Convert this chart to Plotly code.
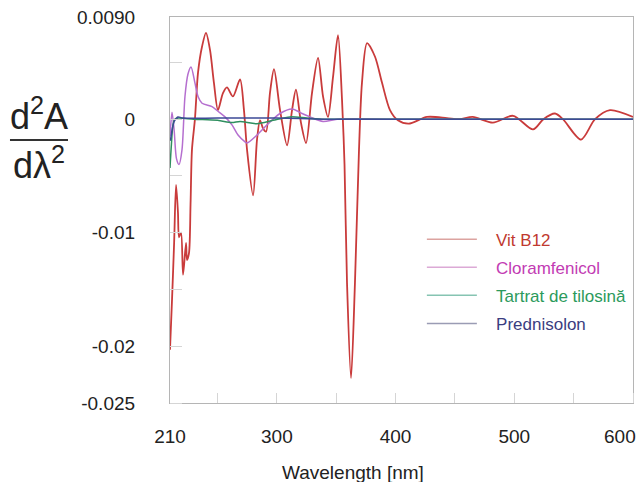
import plotly.graph_objects as go

# ---------------- data ----------------
wl_b12 = [210, 211.7, 213.5, 215.1, 216.7, 217.6, 219.3, 221.0, 223.5, 224.3, 226.0, 227.3, 228.5,
          231.0, 233.6, 237.0, 240.3, 243.7, 247.0, 250.4, 254.6, 258.0, 263.0, 269.0, 272.3,
          274.9, 280.0, 283.3, 285.8, 288.3, 290.9, 294.2, 297.6, 302.7, 308.6, 312.8, 316.1,
          320.3, 324.6, 329.6, 334.7, 338.9, 343.1, 347.3, 351.5, 354.9, 357.0, 359.1, 362.5,
          365.8, 369.2, 371.7, 376.0, 382.7, 388.6, 395.3, 402.0, 411.0, 426.5, 443.3, 454.0,
          465.0, 482.0, 499.0, 515.8, 524.5, 534.3, 541.0, 556.2, 568.0, 580.6, 600.0]
d2_b12 = [-0.0203, -0.0159, -0.0108, -0.0058, -0.0082, -0.0104, -0.0100, -0.0137, -0.0109, -0.0124,
          -0.0118, -0.0075, -0.0027, 0.0000, 0.0041, 0.0064, 0.0076, 0.0061, 0.0032, 0.0008,
          0.0023, 0.0028, 0.0020, 0.0035, 0.0008, -0.0027, -0.0067, -0.0018, -0.0001, -0.0008,
          -0.0011, 0.0023, 0.0044, 0.0008, -0.0023, 0.0008, 0.0026, -0.0003, -0.0021, 0.0023,
          0.0054, 0.0020, 0.0002, 0.0037, 0.0074, 0.0017, -0.0040, -0.0144, -0.0228, -0.0144,
          -0.0027, 0.0032, 0.0067, 0.0055, 0.0032, 0.0008, -0.0001, -0.0004, 0.0002, 0.0001,
          0.0000, 0.0002, -0.0003, 0.0003, -0.0009, 0.0000, 0.0005, 0.0000, -0.0018, 0.0000,
          0.0008, 0.0002]

wl_clor = [210, 211.7, 213.5, 215.5, 217.6, 220.1, 222.6, 225.2, 227.7, 231.0, 233.6, 237.0,
           245.4, 250.4, 256.3, 262.2, 267.3, 273.2, 274.9, 283.3, 291.7, 302.7, 312.8, 321.2,
           328.0, 338.9, 350.7, 400, 500, 600]
d2_clor = [-0.0015, 0.0006, -0.0010, -0.0035, -0.0040, -0.0027, 0.0020, 0.0040, 0.0046, 0.0032,
           0.0020, 0.0014, 0.0011, 0.0007, 0.0002, -0.0005, -0.0014, -0.0020, -0.0021, -0.0014,
           -0.0005, 0.0005, 0.0009, 0.0005, 0.0002, -0.0002, 0.0000, 0.0000, 0.0000, 0.0000]

wl_tilo = [210, 211.2, 212.5, 214, 217, 230, 250, 262, 269, 283.3, 296.8, 311, 325.4, 340, 400, 500, 600]
d2_tilo = [-0.0043, -0.0022, -0.0005, 0.0000, 0.0001, 0.0000, -0.0001, -0.0003, -0.0002, -0.0004,
           -0.0001, 0.0002, 0.0001, 0.0000, 0.0000, 0.0000, 0.0000]

wl_pred = [210, 210.6, 212, 213.5, 215.6, 216.7, 221, 250, 300, 340, 400, 500, 600]
d2_pred = [-0.0019, -0.0017, -0.0008, -0.0002, 0.0001, 0.0002, 0.0001, 0.0001, 0.0001, 0.0000,
           0.0000, 0.0000, 0.0000]

series_names = ["Vit B12", "Cloramfenicol", "Tartrat de tilosină", "Prednisolon"]
line_colors = ["#c93b3b", "#b56fcf", "#2f8f5f", "#3d4a96"]
legend_text_colors = ["#c0392f", "#c23bb3", "#2b9a5c", "#3b3d80"]
legend_line_colors = ["#dca3a0", "#dcaad6", "#86c4b2", "#9a9cb4"]

x_tickvals = [210, 300, 400, 500]
x_ticktext = ["210", "300", "400", "500"]
x_end_val = 600
x_end_text = "600"
y_tickvals = [0.009, 0, -0.01, -0.02, -0.025]
y_ticktext = ["0.0090", "0", "-0.01", "-0.02", "-0.025"]

FONT = "Liberation Sans, Arial, sans-serif"
NB = "\u00a0"

fig = go.Figure()
all_series = [(wl_b12, d2_b12), (wl_clor, d2_clor), (wl_tilo, d2_tilo), (wl_pred, d2_pred)]
widths = [1.8, 1.5, 1.5, 1.5]
for (xs, ys), col, w in zip(all_series, line_colors, widths):
    fig.add_trace(go.Scatter(x=xs, y=ys, mode="lines", showlegend=False, hoverinfo="skip",
                             line=dict(color=col, width=w, shape="spline", smoothing=0.8)))

for i, (name, tc, lc) in enumerate(zip(series_names, legend_text_colors, legend_line_colors)):
    fig.add_trace(go.Scatter(x=[None], y=[None], mode="lines", legendgroup=f"g{i}",
                             line=dict(color=lc, width=1.5),
                             name=f"{NB*3}<span style='color:{tc}'>{name}</span>"))

axis_line = "#b5b5b5"
fig.update_layout(
    width=642, height=482,
    margin=dict(l=170, r=9, t=17, b=79, autoexpand=False),
    paper_bgcolor="white", plot_bgcolor="white",
    font=dict(family=FONT, size=19, color="#222222"),
    showlegend=True,
    legend=dict(x=0.544, y=0.47, xanchor="left", yanchor="top", bgcolor="rgba(0,0,0,0)",
                font=dict(family=FONT, size=17), tracegroupgap=3, itemwidth=50),
    xaxis=dict(range=[210, 600], tickmode="array", tickvals=x_tickvals, ticktext=x_ticktext,
               ticks="", showgrid=False, zeroline=False, showline=True, linecolor=axis_line,
               linewidth=1.2, mirror=True, ticklabelstandoff=16, automargin=False,
               minor=dict(ticks="inside", ticklen=10, tickcolor="#d5d5d5", tick0=0, dtick=50,
                          showgrid=False)),
    yaxis=dict(range=[-0.025, 0.009], tickmode="array", tickvals=y_tickvals, ticktext=y_ticktext,
               ticks="", showgrid=False, zeroline=False, showline=True, linecolor=axis_line,
               linewidth=1.2, mirror=True, ticklabelstandoff=30, ticklabeloverflow="allow",
               automargin=False,
               minor=dict(ticks="inside", ticklen=12, tickcolor="#d5d5d5", tick0=0, dtick=0.005,
                          showgrid=False)),
)

# last x tick label (kept inside the picture, as in the reference)
fig.add_annotation(text=x_end_text, x=x_end_val, xref="x", yref="paper", y=-0.0855,
                   xanchor="right", yanchor="middle", xshift=5, showarrow=False,
                   font=dict(family=FONT, size=19, color="#222222"))

# axis titles
fig.add_annotation(text="Wavelength [nm]", xref="paper", yref="paper", x=0.395, y=-0.179,
                   xanchor="center", yanchor="middle", showarrow=False,
                   font=dict(family=FONT, size=19, color="#222222"))
fig.add_annotation(text="d<sup>2</sup>A", xref="paper", yref="paper", x=-0.283, y=0.75,
                   xanchor="center", yanchor="middle", showarrow=False,
                   font=dict(family=FONT, size=36, color="#222222"))
fig.add_annotation(text="d\u03bb<sup>2</sup>", xref="paper", yref="paper", x=-0.283, y=0.622,
                   xanchor="center", yanchor="middle", showarrow=False,
                   font=dict(family=FONT, size=36, color="#222222"))
fig.add_shape(type="line", xref="paper", yref="paper", x0=-0.3456, x1=-0.2203, y0=0.6813, y1=0.6813,
              line=dict(color="#333333", width=2))

fig.write_html("out.html")
